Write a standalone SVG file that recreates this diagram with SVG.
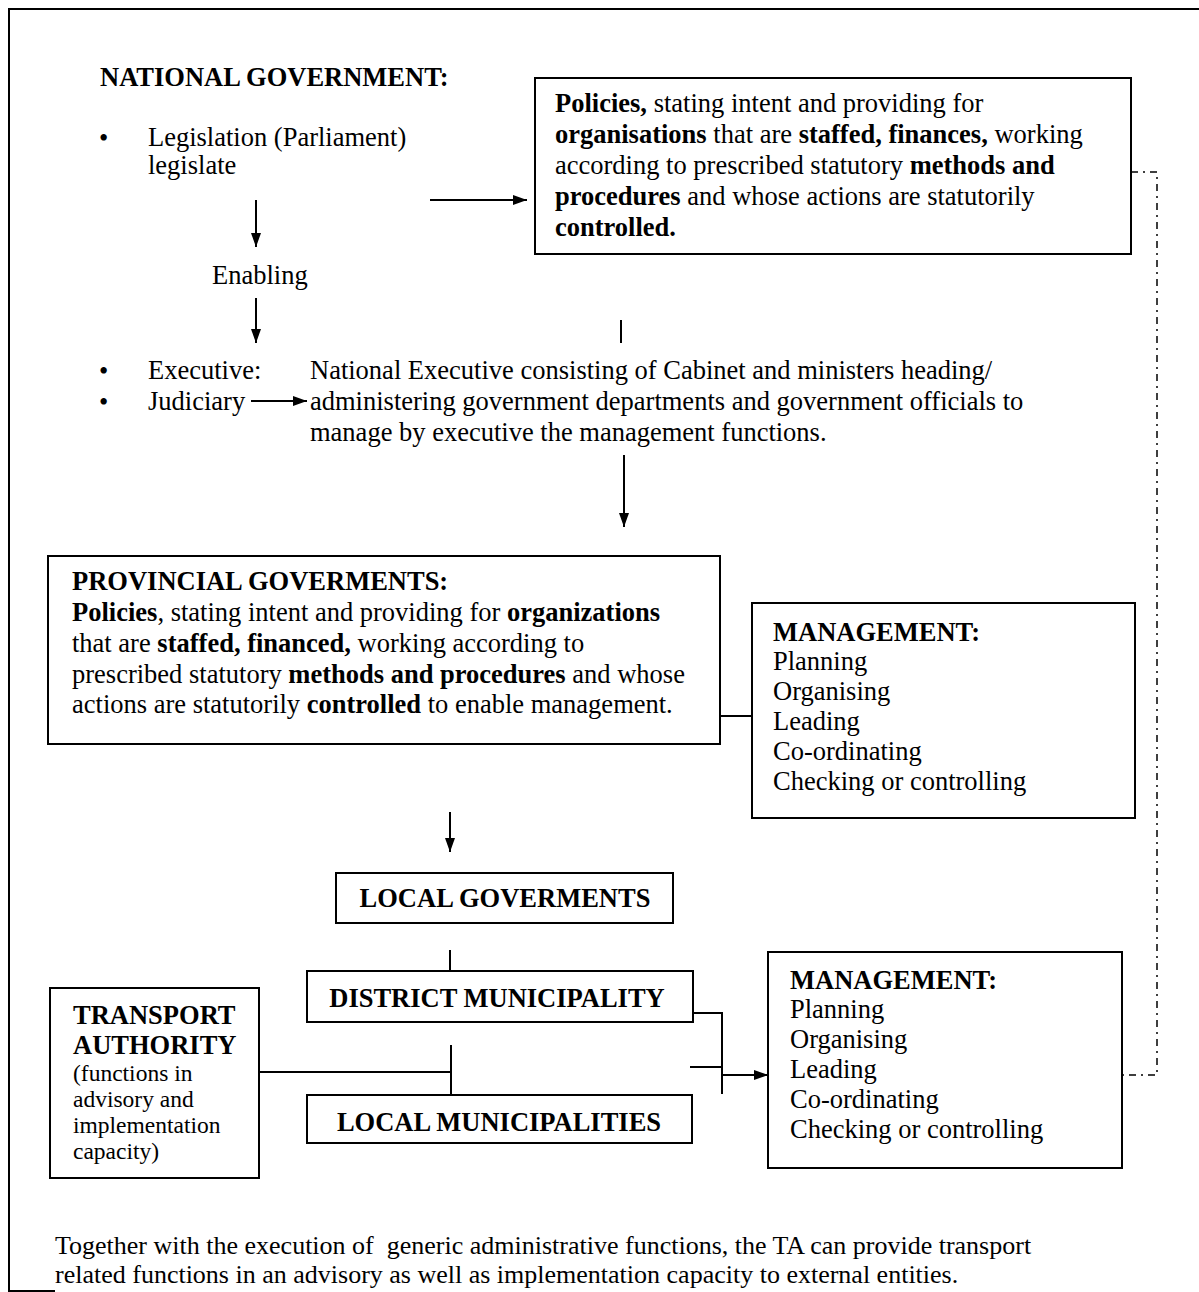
<svg xmlns="http://www.w3.org/2000/svg" width="1199" height="1292" viewBox="0 0 1199 1292">
<style>
text { font-family: "Liberation Serif", "Times New Roman", serif; font-size: 26.5px; fill: #000; }
.b { font-weight: bold; }
.s { font-size: 23.5px; }
.f { font-size: 26px; }
.box { fill: #fff; stroke: #000; stroke-width: 2; }
.ln { fill: none; stroke: #000; stroke-width: 2; }
.arr { fill: none; stroke: #000; stroke-width: 2; marker-end: url(#ah); }
.dd { fill: none; stroke: #000; stroke-width: 1.5; stroke-dasharray: 7 5 2 5; }
</style>
<defs>
<marker id="ah" viewBox="0 0 14 10" refX="14" refY="5" markerWidth="14" markerHeight="10" markerUnits="userSpaceOnUse" orient="auto">
<path d="M0,0 L14,5 L0,10 z" fill="#000"/>
</marker>
</defs>
<rect width="1199" height="1292" fill="#fff"/>

<g id="frame">
<path class="ln" d="M9,1292 V9 H1199"/>
<path class="ln" d="M9,1291 H55"/>
</g>

<g id="connectors">
<path class="arr" d="M256,200 V247"/>
<path class="arr" d="M256,298 V343"/>
<path class="arr" d="M430,200 H527"/>
<path class="arr" d="M251,401 H307"/>
<path class="ln" d="M621,320 V343"/>
<path class="arr" d="M624,455 V527"/>
<path class="arr" d="M720,716 H772"/>
<path class="arr" d="M450,812 V852"/>
<path class="ln" d="M450,950 V972"/>
<path class="ln" d="M259,1072 H451"/>
<path class="ln" d="M451,1045 V1095"/>
<path class="ln" d="M693,1013 H722 V1094"/>
<path class="ln" d="M690,1067 H722"/>
<path class="arr" d="M722,1075 H768"/>
<path class="dd" d="M1131,172 H1157 V1075 H1122"/>
</g>

<g id="national-government">
<text class="b" x="100" y="86">NATIONAL GOVERNMENT:</text>
<text x="99" y="147">•</text>
<text x="148" y="146">Legislation (Parliament)</text>
<text x="148" y="174">legislate</text>
<text x="212" y="284">Enabling</text>
<text x="99" y="380">•</text>
<text x="99" y="411">•</text>
<text x="148" y="379">Executive:</text>
<text x="148" y="410">Judiciary</text>
</g>

<g id="national-executive">
<text x="310" y="379">National Executive consisting of Cabinet and ministers heading/</text>
<text x="310" y="410">administering government departments and government officials to</text>
<text x="310" y="441">manage by executive the management functions.</text>
</g>

<g id="policies-box">
<rect class="box" x="535" y="78" width="596" height="176"/>
<text x="555" y="112"><tspan class="b">Policies,</tspan> stating intent and providing for</text>
<text x="555" y="143"><tspan class="b">organisations</tspan> that are <tspan class="b">staffed, finances,</tspan> working</text>
<text x="555" y="174">according to prescribed statutory <tspan class="b">methods and</tspan></text>
<text x="555" y="205"><tspan class="b">procedures</tspan> and whose actions are statutorily</text>
<text x="555" y="236"><tspan class="b">controlled.</tspan></text>
</g>

<g id="provincial-governments">
<rect class="box" x="48" y="556" width="672" height="188"/>
<text class="b" x="72" y="590">PROVINCIAL GOVERMENTS:</text>
<text x="72" y="621"><tspan class="b">Policies</tspan>, stating intent and providing for <tspan class="b">organizations</tspan></text>
<text x="72" y="652">that are <tspan class="b">staffed, financed,</tspan> working according to</text>
<text x="72" y="683">prescribed statutory <tspan class="b">methods and procedures</tspan> and whose</text>
<text x="72" y="713">actions are statutorily <tspan class="b">controlled</tspan> to enable management.</text>
</g>

<g id="management-1">
<rect class="box" x="752" y="603" width="383" height="215"/>
<text class="b" x="773" y="641">MANAGEMENT:</text>
<text x="773" y="670">Planning</text>
<text x="773" y="700">Organising</text>
<text x="773" y="730">Leading</text>
<text x="773" y="760">Co-ordinating</text>
<text x="773" y="790">Checking or controlling</text>
</g>

<g id="local-governments">
<rect class="box" x="336" y="873" width="337" height="50"/>
<text class="b" x="505" y="907" text-anchor="middle">LOCAL GOVERMENTS</text>
</g>

<g id="district-municipality">
<rect class="box" x="307" y="971" width="386" height="51"/>
<text class="b" x="497" y="1007" text-anchor="middle">DISTRICT MUNICIPALITY</text>
</g>

<g id="local-municipalities">
<rect class="box" x="307" y="1095" width="385" height="48"/>
<text class="b" x="499" y="1131" text-anchor="middle">LOCAL MUNICIPALITIES</text>
</g>

<g id="transport-authority">
<rect class="box" x="50" y="988" width="209" height="190"/>
<text class="b" x="73" y="1024">TRANSPORT</text>
<text class="b" x="73" y="1054">AUTHORITY</text>
<text class="s" x="73" y="1081">(functions in</text>
<text class="s" x="73" y="1107">advisory and</text>
<text class="s" x="73" y="1133">implementation</text>
<text class="s" x="73" y="1159">capacity)</text>
</g>

<g id="management-2">
<rect class="box" x="768" y="952" width="354" height="216"/>
<text class="b" x="790" y="989">MANAGEMENT:</text>
<text x="790" y="1018">Planning</text>
<text x="790" y="1048">Organising</text>
<text x="790" y="1078">Leading</text>
<text x="790" y="1108">Co-ordinating</text>
<text x="790" y="1138">Checking or controlling</text>
</g>

<g id="footnote">
<text class="f" x="55" y="1254" style="white-space:pre">Together with the execution of  generic administrative functions, the TA can provide transport</text>
<text class="f" x="55" y="1283">related functions in an advisory as well as implementation capacity to external entities.</text>
</g>
</svg>
